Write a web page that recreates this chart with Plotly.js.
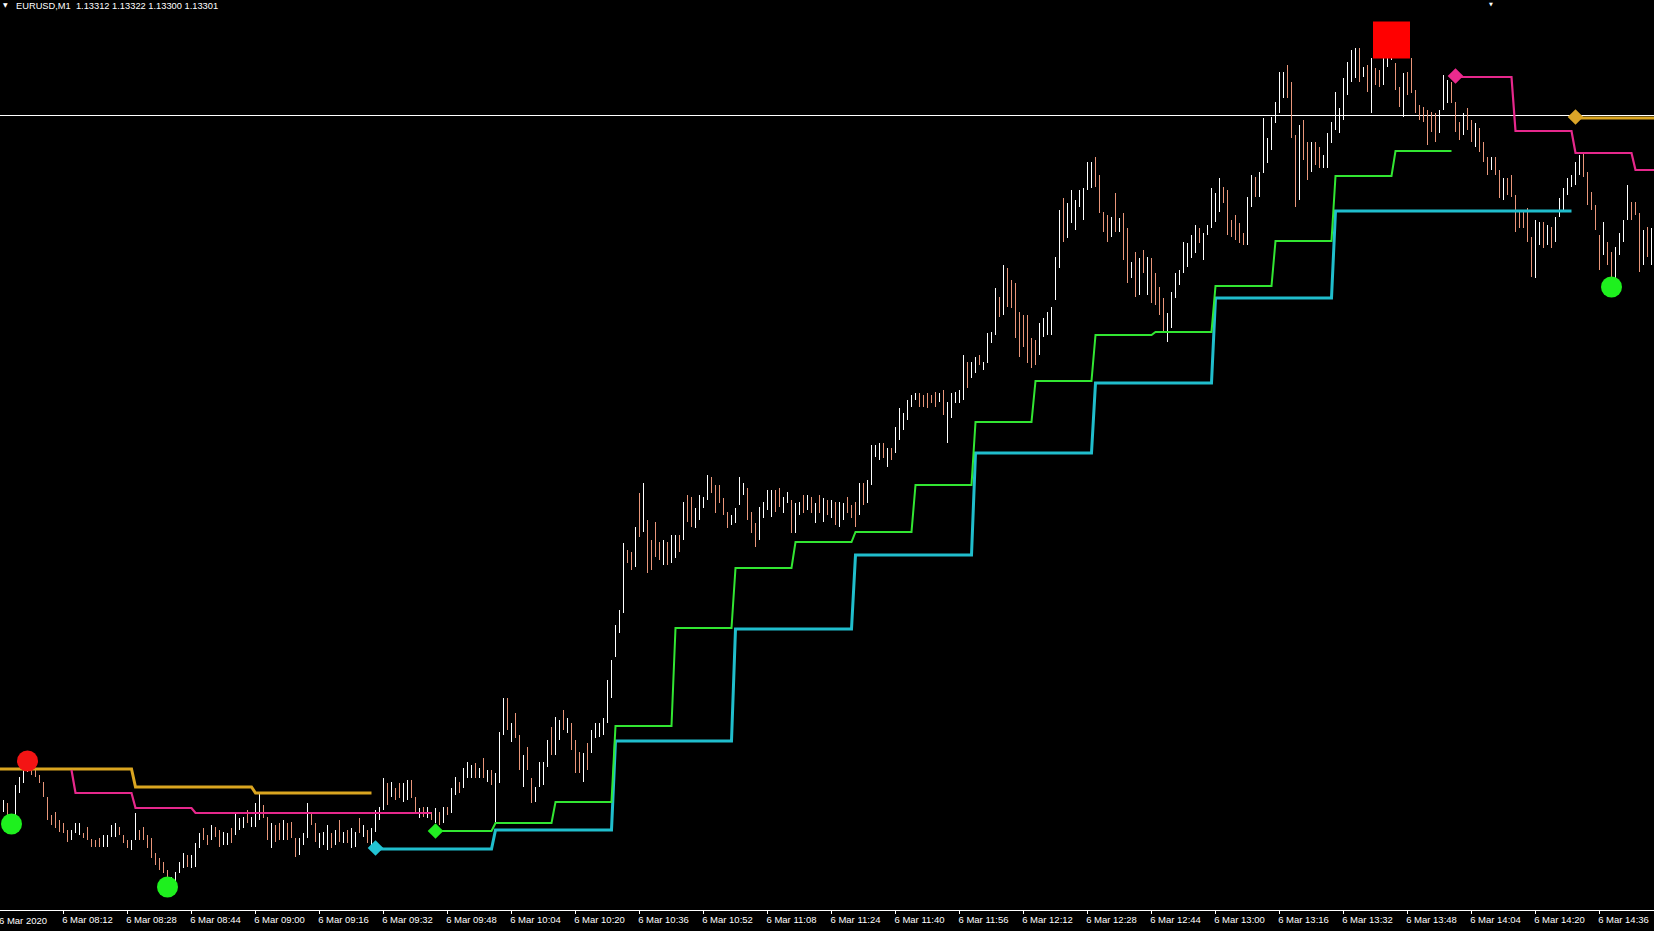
<!DOCTYPE html>
<html>
<head>
<meta charset="utf-8">
<script src="https://cdn.plot.ly/plotly-3.0.1.min.js"></script>
<style>html,body{margin:0;padding:0;background:#000;}#chart{width:1654px;height:931px;}</style>
</head>
<body>
<div id="chart"></div>
<script>
// ---- DATA (EURUSD M1, 6 Mar 2020) ----
const dayDate = '2020-03-06';
const firstBar = '07:57';   // time of first bar, one bar per minute

const high = [
1.12700,1.12697,1.12685,1.12715,1.12723,1.12732,1.12737,1.12737,1.12730,1.12725,
1.12718,1.12703,1.12685,1.12688,1.12680,1.12677,1.12670,1.12670,1.12677,1.12677,
1.12667,1.12673,1.12661,1.12660,1.12662,1.12665,1.12665,1.12675,1.12677,1.12673,
1.12665,1.12660,1.12660,1.12687,1.12670,1.12673,1.12665,1.12662,1.12647,1.12642,
1.12638,1.12630,1.12623,1.12628,1.12638,1.12647,1.12645,1.12645,1.12657,1.12667,
1.12672,1.12665,1.12675,1.12673,1.12670,1.12668,1.12667,1.12672,1.12687,1.12682,
1.12683,1.12690,1.12683,1.12697,1.12707,1.12695,1.12683,1.12677,1.12675,1.12677,
1.12680,1.12677,1.12678,1.12662,1.12662,1.12667,1.12697,1.12688,1.12677,1.12667,
1.12668,1.12675,1.12667,1.12670,1.12680,1.12668,1.12670,1.12672,1.12668,1.12682,
1.12675,1.12670,1.12672,1.12690,1.12693,1.12722,1.12717,1.12718,1.12712,1.12717,
1.12717,1.12720,1.12720,1.12703,1.12692,1.12693,1.12693,1.12688,1.12692,1.12688,
1.12693,1.12693,1.12712,1.12723,1.12718,1.12732,1.12738,1.12735,1.12737,1.12732,
1.12742,1.12730,1.12730,1.12727,1.12768,1.12802,1.12802,1.12777,1.12787,1.12765,
1.12745,1.12753,1.12722,1.12713,1.12738,1.12738,1.12760,1.12773,1.12783,1.12780,
1.12790,1.12782,1.12777,1.12760,1.12748,1.12747,1.12757,1.12770,1.12777,1.12777,
1.12782,1.12820,1.12840,1.12875,1.12890,1.12957,1.12950,1.12948,1.12973,1.13007,
1.13017,1.12980,1.12960,1.12978,1.12958,1.12960,1.12958,1.12965,1.12965,1.12965,
1.12998,1.13005,1.13003,1.12992,1.13005,1.13003,1.13025,1.13023,1.13015,1.13015,
1.13002,1.12988,1.12985,1.12992,1.13023,1.13017,1.13012,1.12988,1.12977,1.12993,
1.12998,1.13010,1.13010,1.13010,1.13012,1.13003,1.13008,1.13000,1.12997,1.12998,
1.13005,1.13005,1.13003,1.12997,1.13005,1.13002,1.13000,1.13000,1.12998,1.12998,
1.12997,1.13003,1.12995,1.12998,1.13017,1.13017,1.13020,1.13055,1.13055,1.13057,
1.13057,1.13052,1.13052,1.13073,1.13092,1.13087,1.13100,1.13105,1.13107,1.13107,
1.13105,1.13107,1.13105,1.13108,1.13107,1.13110,1.13098,1.13107,1.13108,1.13110,
1.13145,1.13138,1.13138,1.13143,1.13145,1.13138,1.13167,1.13168,1.13212,1.13203,
1.13235,1.13232,1.13220,1.13217,1.13188,1.13185,1.13185,1.13162,1.13160,1.13177,
1.13182,1.13188,1.13193,1.13243,1.13290,1.13302,1.13297,1.13310,1.13300,1.13310,
1.13312,1.13338,1.13338,1.13343,1.13325,1.13288,1.13285,1.13283,1.13307,1.13282,
1.13287,1.13272,1.13238,1.13248,1.13242,1.13250,1.13243,1.13242,1.13227,1.13213,
1.13202,1.13187,1.13208,1.13227,1.13230,1.13258,1.13257,1.13265,1.13275,1.13272,
1.13267,1.13275,1.13312,1.13307,1.13322,1.13313,1.13310,1.13280,1.13285,1.13277,
1.13267,1.13303,1.13325,1.13323,1.13328,1.13382,1.13362,1.13383,1.13398,1.13428,
1.13428,1.13435,1.13418,1.13365,1.13375,1.13380,1.13358,1.13358,1.13358,1.13353,
1.13345,1.13367,1.13378,1.13408,1.13392,1.13422,1.13438,1.13450,1.13452,1.13452,
1.13433,1.13435,1.13442,1.13432,1.13430,1.13450,1.13457,1.13458,1.13437,1.13413,
1.13427,1.13428,1.13442,1.13410,1.13395,1.13393,1.13390,1.13388,1.13387,1.13390,
1.13425,1.13420,1.13418,1.13398,1.13378,1.13387,1.13392,1.13380,1.13377,1.13372,
1.13358,1.13343,1.13343,1.13343,1.13330,1.13322,1.13322,1.13325,1.13305,1.13290,
1.13288,1.13292,1.13263,1.13280,1.13278,1.13278,1.13275,1.13273,1.13283,1.13302,
1.13312,1.13322,1.13325,1.13338,1.13345,1.13347,1.13328,1.13308,1.13295,1.13265,
1.13278,1.13258,1.13248,1.13253,1.13267,1.13280,1.13315,1.13298,1.13298,1.13287,
1.13270,1.13273,1.13272
];

const low = [
1.12688,1.12685,1.12673,1.12675,1.12707,1.12717,1.12728,1.12725,1.12723,1.12717,
1.12703,1.12680,1.12675,1.12672,1.12668,1.12667,1.12658,1.12660,1.12667,1.12665,
1.12662,1.12660,1.12653,1.12653,1.12653,1.12653,1.12653,1.12663,1.12663,1.12665,
1.12657,1.12652,1.12650,1.12660,1.12660,1.12660,1.12652,1.12642,1.12635,1.12630,
1.12627,1.12613,1.12612,1.12618,1.12627,1.12632,1.12633,1.12632,1.12633,1.12652,
1.12660,1.12655,1.12660,1.12663,1.12653,1.12655,1.12655,1.12657,1.12665,1.12670,
1.12672,1.12677,1.12673,1.12673,1.12680,1.12682,1.12660,1.12652,1.12658,1.12660,
1.12660,1.12660,1.12662,1.12643,1.12645,1.12655,1.12662,1.12675,1.12658,1.12652,
1.12655,1.12650,1.12652,1.12655,1.12658,1.12657,1.12657,1.12652,1.12653,1.12667,
1.12663,1.12657,1.12652,1.12668,1.12680,1.12690,1.12695,1.12703,1.12700,1.12702,
1.12698,1.12700,1.12702,1.12688,1.12682,1.12683,1.12682,1.12680,1.12677,1.12675,
1.12677,1.12685,1.12687,1.12705,1.12707,1.12712,1.12722,1.12722,1.12722,1.12722,
1.12722,1.12718,1.12715,1.12678,1.12717,1.12765,1.12770,1.12758,1.12762,1.12730,
1.12713,1.12730,1.12697,1.12698,1.12713,1.12715,1.12733,1.12745,1.12745,1.12760,
1.12770,1.12767,1.12750,1.12727,1.12727,1.12718,1.12730,1.12747,1.12762,1.12763,
1.12765,1.12777,1.12802,1.12843,1.12867,1.12887,1.12937,1.12930,1.12933,1.12963,
1.12968,1.12927,1.12930,1.12943,1.12940,1.12935,1.12935,1.12937,1.12942,1.12948,
1.12960,1.12978,1.12973,1.12972,1.12980,1.12992,1.13000,1.13007,1.12987,1.12997,
1.12985,1.12972,1.12975,1.12977,1.12995,1.13005,1.12980,1.12967,1.12953,1.12960,
1.12982,1.12990,1.12983,1.12988,1.12993,1.12987,1.12997,1.12967,1.12967,1.12985,
1.12987,1.12990,1.12987,1.12977,1.12987,1.12978,1.12985,1.12982,1.12975,1.12973,
1.12980,1.12987,1.12982,1.12973,1.12985,1.12995,1.12997,1.13015,1.13043,1.13040,
1.13042,1.13033,1.13040,1.13047,1.13060,1.13070,1.13080,1.13093,1.13100,1.13093,
1.13093,1.13092,1.13097,1.13093,1.13098,1.13085,1.13057,1.13082,1.13097,1.13097,
1.13100,1.13112,1.13122,1.13127,1.13135,1.13130,1.13137,1.13157,1.13165,1.13183,
1.13185,1.13193,1.13192,1.13162,1.13143,1.13153,1.13137,1.13132,1.13135,1.13145,
1.13163,1.13165,1.13165,1.13200,1.13232,1.13258,1.13262,1.13277,1.13270,1.13293,
1.13280,1.13310,1.13312,1.13313,1.13287,1.13268,1.13258,1.13263,1.13268,1.13268,
1.13240,1.13217,1.13222,1.13203,1.13205,1.13227,1.13205,1.13197,1.13195,1.13185,
1.13168,1.13158,1.13172,1.13202,1.13215,1.13227,1.13233,1.13242,1.13247,1.13257,
1.13240,1.13265,1.13272,1.13278,1.13288,1.13297,1.13265,1.13263,1.13260,1.13257,
1.13255,1.13255,1.13293,1.13303,1.13303,1.13327,1.13337,1.13350,1.13377,1.13387,
1.13402,1.13402,1.13362,1.13293,1.13300,1.13340,1.13320,1.13328,1.13335,1.13332,
1.13332,1.13332,1.13357,1.13370,1.13367,1.13380,1.13405,1.13418,1.13422,1.13418,
1.13423,1.13408,1.13387,1.13415,1.13413,1.13415,1.13433,1.13440,1.13410,1.13393,
1.13383,1.13405,1.13407,1.13387,1.13380,1.13378,1.13355,1.13368,1.13358,1.13367,
1.13390,1.13397,1.13397,1.13368,1.13360,1.13365,1.13370,1.13358,1.13353,1.13348,
1.13338,1.13325,1.13330,1.13325,1.13302,1.13300,1.13305,1.13303,1.13268,1.13272,
1.13272,1.13258,1.13223,1.13222,1.13255,1.13252,1.13255,1.13252,1.13258,1.13283,
1.13288,1.13305,1.13313,1.13315,1.13325,1.13323,1.13295,1.13290,1.13270,1.13230,
1.13245,1.13235,1.13213,1.13213,1.13245,1.13258,1.13280,1.13280,1.13285,1.13228,
1.13235,1.13243,1.13235
];

// u = up bar (close >= open), d = down bar
const direction = [
'uduuuuuddd','ddddddduuu','ddddduuuud','dduudddddd','dduuuuduuu',
'ddudduuduu','uduuuddudd','uddduuuddu','uudududuud','uduuuududd',
'uuddududud','uduuduuudu','duduuududd','udduuuuduu','duddduduuu',
'uuuuuuddud','udddduduud','udduuuuddd','dduuuudddu','uuudduuduu',
'dududududu','uddduduuuu','duduuuuuud','dddduduuuu','uduuduuuud',
'uddddddddu','uuuuuduuuu','uuuddddudu','ddudududdd','duuuuuuuud',
'uuuuuddddd','duuduuuuuu','uddduddudd','uuuuuuuuud','ududduuudd',
'uddddddddu','uuddduddud','dduddudddd','ddduududuu','uuuuuddddd',
'udduuuuddd','udu'
].join('');

// step indicator lines (vertices at bar times)
const orangeTime = ['07:56','08:29','08:30','08:59','09:00','09:29',null,'14:30','14:50'];
const orangeVal  = [1.12731,1.12731,1.12713,1.12713,1.12707,1.12707,null,1.13382,1.13382];

const pinkTime = ['08:14','08:15','08:29','08:30','08:44','08:45','09:44',null,'14:00','14:14','14:15','14:29','14:30','14:44','14:45','14:50'];
const pinkVal  = [1.12730,1.12707,1.12707,1.12692,1.12692,1.12687,1.12687,null,1.13423,1.13423,1.13369,1.13369,1.13347,1.13347,1.13330,1.13330];

const greenTime = ['09:45','09:59','10:00','10:14','10:15','10:29','10:30','10:44','10:45','10:59','11:00','11:14','11:15','11:29','11:30','11:44','11:45','11:59','12:00','12:14','12:15','12:29','12:30','12:44','12:45','12:59','13:00','13:14','13:15','13:29','13:30','13:44','13:45','13:59'];
const greenVal  = [1.12669,1.12669,1.12677,1.12677,1.12698,1.12698,1.12774,1.12774,1.12872,1.12872,1.12932,1.12932,1.12958,1.12958,1.12968,1.12968,1.13015,1.13015,1.13078,1.13078,1.13119,1.13119,1.13165,1.13165,1.13168,1.13168,1.13214,1.13214,1.13259,1.13259,1.13324,1.13324,1.13349,1.13349];

const cyanTime = ['09:30','09:59','10:00','10:29','10:30','10:59','11:00','11:29','11:30','11:59','12:00','12:29','12:30','12:59','13:00','13:29','13:30','14:29'];
const cyanVal  = [1.12651,1.12651,1.12670,1.12670,1.12759,1.12759,1.12871,1.12871,1.12945,1.12945,1.13047,1.13047,1.13117,1.13117,1.13202,1.13202,1.13289,1.13289];

// signal markers
const circleTime  = ['07:59','08:03','08:38','14:39'];
const circleVal   = [1.12676,1.12739,1.12613,1.13213];
const circleColor = ['#1ef01e','#f41414','#1ef01e','#1ef01e'];

const diamondTime  = ['09:30','09:45','14:00','14:30'];
const diamondVal   = [1.12652,1.12669,1.13424,1.13383];
const diamondColor = ['#22c4d4','#22ee22','#ec2a8e','#dba528'];

const squareTime = ['13:44'];
const squareVal  = [1.13460];

const hLinePrice = 1.133845;

const tickTimes = ['08:12','08:28','08:44','09:00','09:16','09:32','09:48','10:04','10:20','10:36','10:52','11:08','11:24','11:40','11:56','12:12','12:28','12:44','13:00','13:16','13:32','13:48','14:04','14:20','14:36'];
const firstTickLabel = '6 Mar 2020';
const headerText = 'EURUSD,M1\u00a0\u00a01.13312 1.13322 1.13300 1.13301';

// ---- BUILD ----
const pad2 = n => (n < 10 ? '0' : '') + n;
const T = s => s === null ? null : dayDate + ' ' + s;
const startMin = parseInt(firstBar.slice(0,2)) * 60 + parseInt(firstBar.slice(3));
function barTime(k) { const m = startMin + k; return dayDate + ' ' + pad2(Math.floor(m / 60)) + ':' + pad2(m % 60); }

const upX = [], upY = [], dnX = [], dnY = [];
for (let k = 0; k < high.length; k++) {
  const t = barTime(k);
  if (direction[k] === 'u') { upX.push(t, t, null); upY.push(low[k], high[k], null); }
  else { dnX.push(t, t, null); dnY.push(low[k], high[k], null); }
}

const traces = [
  {type:'scatter', mode:'lines', x:upX, y:upY, line:{color:'#ffffff', width:1}, hoverinfo:'skip'},
  {type:'scatter', mode:'lines', x:dnX, y:dnY, line:{color:'#e9967a', width:1}, hoverinfo:'skip'},
  {type:'scatter', mode:'lines', x:orangeTime.map(T), y:orangeVal, line:{color:'#daa520', width:3}, connectgaps:false},
  {type:'scatter', mode:'lines', x:pinkTime.map(T), y:pinkVal, line:{color:'#e6288c', width:2.2}, connectgaps:false},
  {type:'scatter', mode:'lines', x:cyanTime.map(T), y:cyanVal, line:{color:'#20becd', width:3}},
  {type:'scatter', mode:'lines', x:greenTime.map(T), y:greenVal, line:{color:'#32e632', width:2}},
  {type:'scatter', mode:'markers', x:circleTime.map(T), y:circleVal, marker:{symbol:'circle', size:21, color:circleColor, line:{width:0}}, cliponaxis:false},
  {type:'scatter', mode:'markers', x:diamondTime.map(T), y:diamondVal, marker:{symbol:'diamond', size:12, color:diamondColor, line:{width:0}}},
  {type:'scatter', mode:'markers', x:squareTime.map(T), y:squareVal, marker:{symbol:'square', size:37, color:'#ff0000', line:{width:0}}}
];

const labelFont = {family:'Liberation Sans, Arial, sans-serif', size:9.5, color:'#ffffff'};

const layout = {
  width:1654, height:931,
  paper_bgcolor:'#000000', plot_bgcolor:'#000000',
  margin:{l:0, r:0, t:0, b:21, pad:0},
  showlegend:false,
  xaxis:{
    type:'date',
    range:[dayDate + ' 07:56:07.5', dayDate + ' 14:49:37.5'],
    showgrid:false, zeroline:false,
    showline:true, linecolor:'#ffffff', linewidth:1,
    ticks:'outside', ticklen:3, tickwidth:1, tickcolor:'#ffffff',
    tickvals:tickTimes.map(T),
    ticktext:tickTimes.map(s => '6 Mar ' + s),
    tickfont:labelFont,
    ticklabelshift:24,
    ticklabelstandoff:-2,
    fixedrange:true
  },
  yaxis:{
    range:[1.12590, 1.13500],
    showgrid:false, zeroline:false, showline:false,
    showticklabels:false, ticks:'', fixedrange:true
  },
  shapes:[
    {type:'line', layer:'below', xref:'paper', x0:0, x1:1, yref:'y', y0:hLinePrice, y1:hLinePrice, line:{color:'#ffffff', width:1}}
  ],
  annotations:[
    {xref:'paper', yref:'paper', x:15/1654, y:1 - 6/910, xanchor:'left', yanchor:'middle', text:headerText, showarrow:false,
     font:{family:'Liberation Sans, Arial, sans-serif', size:9.3, color:'#ffffff'}, borderpad:0},
    {xref:'paper', yref:'paper', x:5/1654, y:1 - 5/910, xanchor:'center', yanchor:'middle', text:'\u25BC', showarrow:false,
     font:{family:'DejaVu Sans', size:6, color:'#ffffff'}, borderpad:0},
    {xref:'paper', yref:'paper', x:1491/1654, y:1, xanchor:'center', yanchor:'top', text:'\u25BC', showarrow:false,
     font:{family:'DejaVu Sans', size:5, color:'#ffffff'}, borderpad:0},
    {xref:'paper', yref:'paper', x:0, y:0, xanchor:'left', yanchor:'top', yshift:-4, xshift:-2, text:firstTickLabel, showarrow:false,
     font:labelFont, borderpad:0}
  ]
};

Plotly.newPlot('chart', traces, layout, {staticPlot:true, displayModeBar:false});
</script>
</body>
</html>
